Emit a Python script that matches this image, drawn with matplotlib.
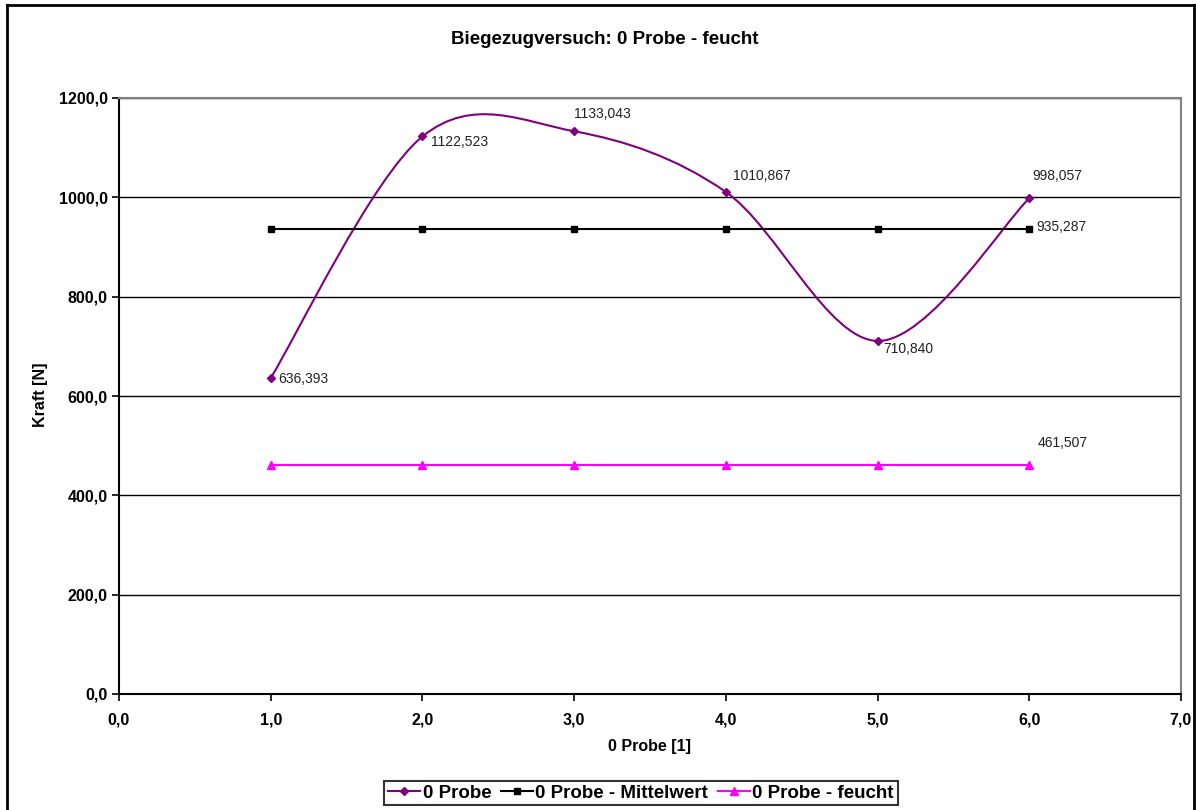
import matplotlib
matplotlib.use('Agg')
import matplotlib.pyplot as plt
from matplotlib.path import Path
from matplotlib.patches import PathPatch
from matplotlib.lines import Line2D
from matplotlib.ticker import FuncFormatter, MultipleLocator

# Daten
proben = [1, 2, 3, 4, 5, 6]
kraft = [636.393, 1122.523, 1133.043, 1010.867, 710.840, 998.057]
mittelwert = [935.287] * 6
feucht = [461.507] * 6

# Label-Offsets (Pixel) fuer die Datenbeschriftungen
offs_kraft = [(8, -1), (9, -6), (0, 17), (7, 16), (6, -8), (3, 22)]

plt.rcParams['font.family'] = ['Liberation Sans', 'DejaVu Sans']

PURPLE = '#800080'
MAGENTA = '#FF00FF'


def fmt(v):
    return f"{v:.3f}".replace('.', ',')


def smooth_path(xs, ys):
    # Excel-artige Glaettung: kubische Bezier (Catmull-Rom, Spannung 1/6)
    pts = list(zip(xs, ys))
    n = len(pts)
    verts = [pts[0]]
    codes = [Path.MOVETO]
    for i in range(n - 1):
        p0 = pts[i - 1] if i > 0 else pts[i]
        p1 = pts[i]
        p2 = pts[i + 1]
        p3 = pts[i + 2] if i + 2 < n else pts[i + 1]
        c1 = (p1[0] + (p2[0] - p0[0]) / 6, p1[1] + (p2[1] - p0[1]) / 6)
        c2 = (p2[0] - (p3[0] - p1[0]) / 6, p2[1] - (p3[1] - p1[1]) / 6)
        verts += [c1, c2, p2]
        codes += [Path.CURVE4] * 3
    return Path(verts, codes)


fig = plt.figure(figsize=(11.96, 8.10), dpi=100)
ax = fig.add_axes([119 / 1196, 1 - 694 / 810, 1062 / 1196, 596 / 810])

# Rahmen um die Abbildung
for xs_, ys_ in [([7 / 1196, 7 / 1196], [0, 1 - 5 / 810]),
                 ([7 / 1196, 1194 / 1196], [1 - 5 / 810, 1 - 5 / 810]),
                 ([1194 / 1196, 1194 / 1196], [0, 1 - 5 / 810])]:
    fig.add_artist(Line2D(xs_, ys_, color='black', lw=2.0))

ax.set_xlim(0, 7)
ax.set_ylim(0, 1200)
ax.xaxis.set_major_locator(MultipleLocator(1))
ax.yaxis.set_major_locator(MultipleLocator(200))
ax.xaxis.set_major_formatter(FuncFormatter(lambda v, p: f"{v:.1f}".replace('.', ',')))
ax.yaxis.set_major_formatter(FuncFormatter(lambda v, p: f"{v:.1f}".replace('.', ',')))
ax.grid(axis='y', color='black', lw=1.0)
ax.set_axisbelow(True)

for s in ['top', 'right']:
    ax.spines[s].set_color('#808080')
    ax.spines[s].set_linewidth(1.5)
for s in ['left', 'bottom']:
    ax.spines[s].set_color('black')
    ax.spines[s].set_linewidth(1.5)

ax.tick_params(direction='out', length=5, width=1.2, labelsize=11.5, pad=3)
for lab in ax.get_xticklabels() + ax.get_yticklabels():
    lab.set_fontweight('bold')
ax.tick_params(axis='x', pad=8)

# Glatte Kurve fuer die Proben
ax.add_patch(PathPatch(smooth_path(proben, kraft), facecolor='none',
                       edgecolor=PURPLE, lw=1.5, zorder=3))
ax.plot(proben, kraft, ls='none', marker='D', ms=4.5, color=PURPLE, zorder=4)
ax.plot(proben, mittelwert, color='black', lw=1.5, marker='s', ms=4.5, zorder=3)
ax.plot(proben, feucht, color=MAGENTA, lw=1.5, marker='^', ms=5.5, zorder=3)

for x, y, o in zip(proben, kraft, offs_kraft):
    ax.annotate(fmt(y), (x, y), xytext=o, textcoords='offset pixels',
                ha='left', va='center', fontsize=10, color='#222222')
ax.annotate(fmt(mittelwert[-1]), (proben[-1], mittelwert[-1]), xytext=(7, 2),
            textcoords='offset pixels', ha='left', va='center', fontsize=10, color='#222222')
ax.annotate(fmt(feucht[-1]), (proben[-1], feucht[-1]), xytext=(8, 22),
            textcoords='offset pixels', ha='left', va='center', fontsize=10, color='#222222')

fig.text(605 / 1196, 1 - 40 / 810, 'Biegezugversuch: 0 Probe - feucht',
         ha='center', va='center', fontsize=13.5, fontweight='bold')
fig.text(40 / 1196, 1 - 395 / 810, 'Kraft [N]', rotation=90,
         ha='center', va='center', fontsize=11.5, fontweight='bold')
fig.text(649 / 1196, 1 - 747 / 810, '0 Probe [1]',
         ha='center', va='center', fontsize=11.5, fontweight='bold')

handles = [
    Line2D([], [], color=PURPLE, lw=1.5, marker='D', ms=4.5),
    Line2D([], [], color='black', lw=1.5, marker='s', ms=4.5),
    Line2D([], [], color=MAGENTA, lw=1.5, marker='^', ms=5.5),
]
leg = fig.legend(handles, ['0 Probe', '0 Probe - Mittelwert', '0 Probe - feucht'],
                 loc='center', bbox_to_anchor=(641 / 1196, 1 - 793 / 810), ncol=3,
                 frameon=True, fancybox=False, edgecolor='black',
                 prop={'weight': 'bold', 'size': 13.5}, handlelength=1.7,
                 handletextpad=0.15, columnspacing=0.5, borderpad=0.2,
                 borderaxespad=0)
leg.get_frame().set_linewidth(1.5)

fig.savefig('out.png', dpi=100)
